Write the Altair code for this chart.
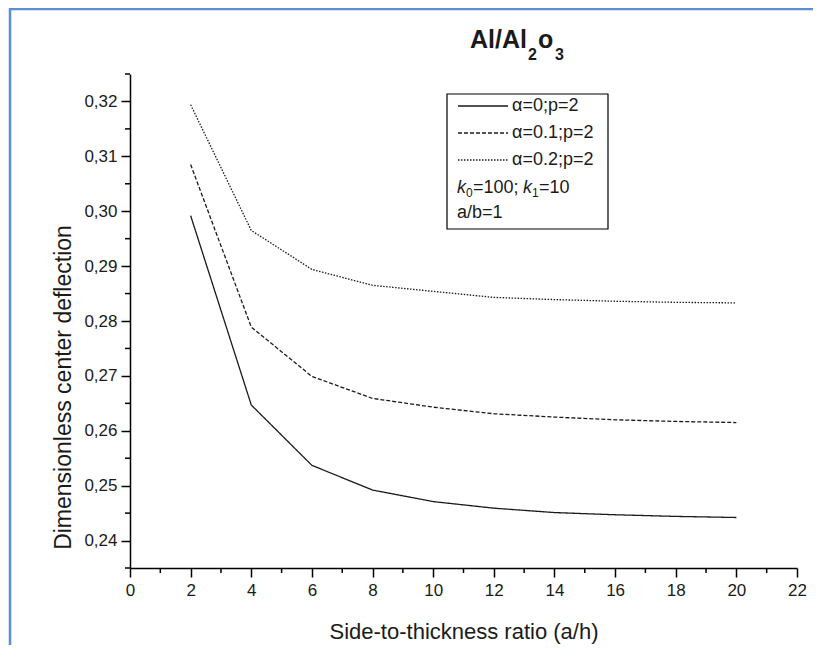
import altair as alt
import pandas as pd

# ---- data ----
ratio = [2, 4, 6, 8, 10, 12, 14, 16, 18, 20]
defl_a0 = [0.2992, 0.2647, 0.2537, 0.2492, 0.2471, 0.2459, 0.2451, 0.2447, 0.2444, 0.2442]
defl_a01 = [0.3085, 0.2789, 0.2699, 0.2659, 0.2643, 0.2631, 0.2625, 0.2620, 0.2617, 0.2615]
defl_a02 = [0.3194, 0.2965, 0.2894, 0.2865, 0.2854, 0.2843, 0.2839, 0.2836, 0.2834, 0.2833]
series_names = ["α=0;p=2", "α=0.1;p=2", "α=0.2;p=2"]
x_major = [0, 2, 4, 6, 8, 10, 12, 14, 16, 18, 20, 22]
x_minor = [1, 3, 5, 7, 9, 11, 13, 15, 17, 19, 21]
y_major = [0.24, 0.25, 0.26, 0.27, 0.28, 0.29, 0.30, 0.31, 0.32]
y_minor = [0.235, 0.245, 0.255, 0.265, 0.275, 0.285, 0.295, 0.305, 0.315, 0.325]

W, H = 667, 494
FONT = "Liberation Sans"
INK = "#1a1a1a"

rows = []
for name, ys in zip(series_names, [defl_a0, defl_a01, defl_a02]):
    for xv, yv in zip(ratio, ys):
        rows.append({"ratio": xv, "defl": yv, "series": name})
df = pd.DataFrame(rows)

dash_scale = alt.Scale(domain=series_names, range=[[1, 0], [4, 2], [1.5, 1.5]])

xscale = alt.Scale(domain=[0, 22], nice=False, zero=False)
yscale = alt.Scale(domain=[0.235, 0.325], nice=False, zero=False)

xaxis = alt.Axis(values=x_major, title="Side-to-thickness ratio (a/h)",
                 labelPadding=5, labelFlush=False, titleFontSize=22, titleY=70,
                 titleBaseline="alphabetic", titleFontWeight="normal")
yaxis = alt.Axis(values=y_major, title="Dimensionless center deflection",
                 labelExpr="replace(format(datum.value, '.2f'), '.', ',')",
                 labelPadding=4, labelFlush=False, titleFontSize=23, titleX=-67, titleY=313,
                 titleAngle=270, titleAlign="center", titleBaseline="middle",
                 titleFontWeight="normal")

lines = alt.Chart(df).mark_line(color=INK, strokeWidth=1.3).encode(
    x=alt.X("ratio:Q", scale=xscale, axis=xaxis),
    y=alt.Y("defl:Q", scale=yscale, axis=yaxis),
    strokeDash=alt.StrokeDash("series:N", scale=dash_scale, legend=None),
    detail="series:N",
)

yminor = alt.Chart(pd.DataFrame({"defl": y_minor})).mark_rule(color="black", strokeWidth=1.5).encode(
    y=alt.Y("defl:Q", scale=yscale, axis=yaxis),
    x=alt.value(-5), x2=alt.value(0),
)
xminor = alt.Chart(pd.DataFrame({"ratio": x_minor})).mark_rule(color="black", strokeWidth=1.5).encode(
    x=alt.X("ratio:Q", scale=xscale, axis=xaxis),
    y=alt.value(H), y2=alt.value(H + 5),
)

# ---- legend box (manual) ----
box = alt.Chart(pd.DataFrame({"k": [0]})).mark_rect(fill="white", stroke="black", strokeWidth=1.2).encode(
    x=alt.value(317), x2=alt.value(478), y=alt.value(20), y2=alt.value(155),
)

leg_rows_y = [32, 59, 86]
leg_lines = []
leg_texts = []
for name, yy, dash in zip(series_names, leg_rows_y, [[1, 0], [4, 2], [1.5, 1.5]]):
    d = pd.DataFrame({"label": [name]})
    leg_lines.append(alt.Chart(d).mark_rule(color=INK, strokeWidth=1.3, strokeDash=dash).encode(
        x=alt.value(328), x2=alt.value(378), y=alt.value(yy)))
    leg_texts.append(alt.Chart(d).mark_text(align="left", baseline="middle", font=FONT,
                                            fontSize=18, color=INK).encode(
        x=alt.value(382), y=alt.value(yy), text="label:N"))

def txt(s, x, y, size=18, style="normal", weight="normal", baseline="alphabetic"):
    return alt.Chart(pd.DataFrame({"t": [s]})).mark_text(
        align="left", baseline=baseline, font=FONT, fontSize=size, fontStyle=style,
        fontWeight=weight, color=INK).encode(x=alt.value(x), y=alt.value(y), text="t:N")

kb = 119
k_row = [
    txt("k", 327, kb, style="italic"),
    txt("0", 336, kb + 4, size=12),
    txt("=100;", 343, kb),
    txt("k", 393, kb, style="italic"),
    txt("1", 402, kb + 4, size=12),
    txt("=10", 409, kb),
]
ab_row = [txt("a/b=1", 327, 144)]

# ---- title Al/Al2o3 ----
title_parts = [
    txt("Al/Al", 340, -26, size=25, weight="bold"),
    txt("2", 398, -14, size=16, weight="bold"),
    txt("o", 408, -26, size=25, weight="bold"),
    txt("3", 425, -14, size=16, weight="bold"),
]

# ---- blue frame of the figure ----
frame_left = alt.Chart(pd.DataFrame({"k": [0]})).mark_rule(color="#5a8fd4", strokeWidth=2.5).encode(
    x=alt.value(-120), y=alt.value(-66), y2=alt.value(H + 80))
frame_top = alt.Chart(pd.DataFrame({"k": [0]})).mark_rule(color="#5a8fd4", strokeWidth=2.5).encode(
    x=alt.value(-121), x2=alt.value(W + 16), y=alt.value(-65))

chart = alt.layer(
    lines, yminor, xminor, frame_left, frame_top, box, *leg_lines, *leg_texts,
    *k_row, *ab_row, *title_parts,
).properties(
    width=W, height=H,
    autosize=alt.AutoSizeParams(type="none"),
    padding={"left": 122, "top": 66, "right": 16, "bottom": 77},
).configure_view(stroke=None).configure_axis(
    grid=False, domainColor="black", domainWidth=1.5, tickColor="black", tickWidth=1.5,
    tickSize=9, labelFont=FONT, labelFontSize=17, labelColor=INK, titleFont=FONT,
    titleColor=INK,
)

chart.save("out.html", embed_options={"renderer": "svg", "actions": False})
